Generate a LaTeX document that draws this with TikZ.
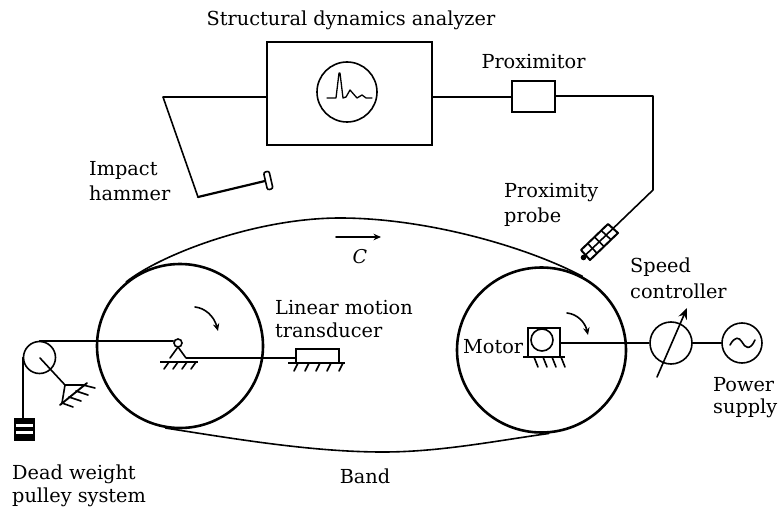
\documentclass[tikz,border=0pt]{standalone}
\usepackage{fontspec}
\setmainfont{DejaVu Serif}
\usetikzlibrary{arrows.meta,shapes.geometric,calc}
\tikzset{
  ln/.style={line width=1.6pt,line join=round,line cap=round},
  thin ln/.style={line width=1.3pt,line join=round,line cap=round},
  drum/.style={draw,ellipse,line width=2.6pt,inner sep=0pt,minimum width=#1},
  wheel/.style={draw,circle,line width=1.6pt,inner sep=0pt,minimum size=#1},
  block/.style={draw,rectangle,line width=1.6pt,inner sep=0pt},
  lbl/.style={inner sep=0pt,font=\fontsize{19.3}{19.3}\selectfont},
  arr/.style={ln,-{Stealth[length=7.5pt,width=6.5pt]}},
}
\begin{document}
\begin{tikzpicture}[x=1pt,y=-1pt]
\useasboundingbox (0,0) rectangle (779,508);
% labels
\node[lbl] (tsda) at (351,20) {Structural dynamics analyzer};
\node[lbl] (tprox) at (533.5,62) {Proximitor};
\node[lbl,anchor=west] (timp1) at (89,170) {Impact};
\node[lbl,anchor=west] (timp2) at (89,193) {hammer};
\node[lbl,anchor=west] (tpp1) at (504,193) {Proximity};
\node[lbl,anchor=west] (tpp2) at (504,217) {probe};
\node[lbl,anchor=west] (tsc1) at (630,267) {Speed};
\node[lbl,anchor=west] (tsc2) at (630,291) {controller};
\node[lbl,anchor=west] (tlm1) at (275,308) {Linear motion};
\node[lbl,anchor=west] (tlm2) at (275,330) {transducer};
\node[lbl,anchor=west] (tmot) at (463,347) {Motor};
\node[lbl,anchor=west] (tps1) at (713,385) {Power};
\node[lbl,anchor=west] (tps2) at (713,408) {supply};
\node[lbl,anchor=west] (tdw1) at (12,474) {Dead weight};
\node[lbl,anchor=west] (tdw2) at (12,497) {pulley system};
\node[lbl] (tband) at (365,476) {Band};
\node[lbl,font=\fontsize{19}{19}\selectfont\itshape] (tc) at (360,257) {C};
% analyzer
\node[block,minimum width=165pt,minimum height=103pt] (sda) at (349.5,93.5) {};
\node[wheel=60pt] (scope1) at (347,92) {};
\draw[thin ln] (327,98) -- (336,98) -- (339,73) -- (340,73) -- (343,98) -- (346,97) -- (350,90) -- (357,98) -- (362,95) -- (366,98) -- (372,98);
\node[block,minimum width=43pt,minimum height=31pt] (prox) at (533.5,96.5) {};
\coordinate (cL) at (163,97);
\coordinate (cH) at (198,197);
\coordinate (hamH) at (265,181);
\draw[ln] (sda.west |- cL) -- (cL) -- (cH);
\draw[line width=2.2pt,line cap=round,line join=round] (cH) -- (hamH);
\draw[line width=1.6pt,rounded corners=2pt,fill=white] (263.5,172.5) -- (269,171) -- (273,188.5) -- (267.5,190) -- cycle;
\draw[ln] (sda.east |- cL) -- (prox.west |- cL);
\coordinate (cR) at (653,96);
\coordinate (cD) at (653,190);
\coordinate (probeTop) at (613,228.5);
\draw[ln] (prox.east |- cR) -- (cR) -- (cD) -- (probeTop);
% probe
\coordinate (pa) at (608,224);
\coordinate (pb) at (618,233);
\coordinate (pc) at (590,260);
\coordinate (pd) at (581,250);
\draw[line width=2pt,line join=round] (pa) -- (pb) -- (pc) -- (pd) -- cycle;
\draw[line width=1.6pt] ($(pa)!.5!(pb)$) -- ($(pd)!.5!(pc)$);
\foreach \t in {.25,.5,.75} \draw[line width=1.6pt] ($(pa)!\t!(pd)$) -- ($(pb)!\t!(pc)$);
\fill (583.5,257.5) circle (2.8pt);
% drums and band
\node[drum=166pt,minimum height=164pt] (dL) at (180,346) {};
\node[drum=169pt,minimum height=165pt] (dR) at (541.5,350) {};
\draw[ln] (dL.130) .. controls (160,255) and (255,218) .. (340,218) .. controls (425,218) and (525,246) .. (dR.61);
\draw[ln] (dL.-100) .. controls (230,438) and (310,452) .. (383,452) .. controls (440,452) and (495,441) .. (dR.-85);
\coordinate (ca) at (336,237);
\coordinate (cb) at (381,237);
\draw[arr] (ca) -- (cb);
% rotation arrows
\coordinate (ra1) at (195,307);
\coordinate (ra2) at (218,331);
\draw[arr] (ra1) .. controls (205,308) and (214,316) .. (ra2);
\coordinate (rb1) at (567,313);
\coordinate (rb2) at (588,335);
\draw[arr] (rb1) .. controls (577,314) and (585,322) .. (rb2);
% pulley
\node[wheel=32pt] (pul) at (39.5,357.5) {};
\node[wheel=8pt] (pin) at (178,343) {};
\draw[ln] (pul.north) -- (pin.west |- pul.north);
\coordinate (apex) at (178,347);
\draw[ln] (apex) -- (170,358);
\draw[ln] (apex) -- (186,358);
\coordinate (gl1) at (160,362);
\coordinate (gl2) at (198,362);
\draw[line width=2pt] (gl1) -- (gl2);
\foreach \x in {169,178,187,196} \draw[ln] (\x,362) -- (\x-5,369);
% linear transducer
\node[block,minimum width=43pt,minimum height=14pt] (lin) at (317.5,356) {};
\coordinate (rodS) at (186,358);
\draw[line width=1.9pt] (rodS) -- (lin.west |- rodS);
\coordinate (g2a) at (288,363);
\coordinate (g2b) at (345,363);
\draw[line width=1.9pt] (g2a) -- (g2b);
\foreach \x in {298,309,320,331,343} \draw[ln] (\x,363) -- (\x-4,371);
% weight
\node[draw,fill=black,rectangle,line width=.6pt,inner sep=0pt,minimum width=20pt,minimum height=22pt] (wt) at (24,429) {};
\fill[white] (16,424) rectangle (33,427);
\fill[white] (16,431) rectangle (33,434);
\draw[ln] (pul.west) -- (wt.north -| pul.west);
% pulley arm
\coordinate (arm) at (40,358);
\coordinate (fork) at (65,385);
\draw[ln] (arm) -- (fork);
\draw[ln] (fork) -- (83,385);
\draw[ln] (fork) -- (62,403);
\draw[line width=1.9pt,line cap=round] (87,383) -- (60,405);
\draw[ln] (83,385) -- (95,388);
\draw[ln] (76,391) -- (88,395);
\draw[ln] (69,397) -- (81,401);
\draw[ln] (62,403) -- (73,407);
% motor
\node[block,minimum width=32pt,minimum height=29pt] (mot) at (544,342.5) {};
\node[wheel=22pt] (rot) at (542,340) {};
\coordinate (mg1) at (523,357);
\coordinate (mg2) at (565,357);
\draw[line width=1.9pt] (mg1) -- (mg2);
\foreach \x in {534,543,552,561} \draw[ln] (\x,357) -- (\x+4,367);
% speed controller and supply
\node[wheel=42pt] (sc) at (671,343) {};
\node[wheel=40pt] (ps) at (742,343) {};
\draw[line width=1.9pt] (mot.east |- sc.west) -- (sc.west);
\draw[ln] (sc.east) -- (ps.west);
\coordinate (va) at (657,377);
\coordinate (vb) at (687,308);
\draw[ln,-{Stealth[length=11pt,width=9pt]}] (va) -- (vb);
\draw[ln] (730,345) .. controls (735,336) and (739,337) .. (742,342) .. controls (745,348) and (750,351) .. (755,340);
\end{tikzpicture}
\end{document}
